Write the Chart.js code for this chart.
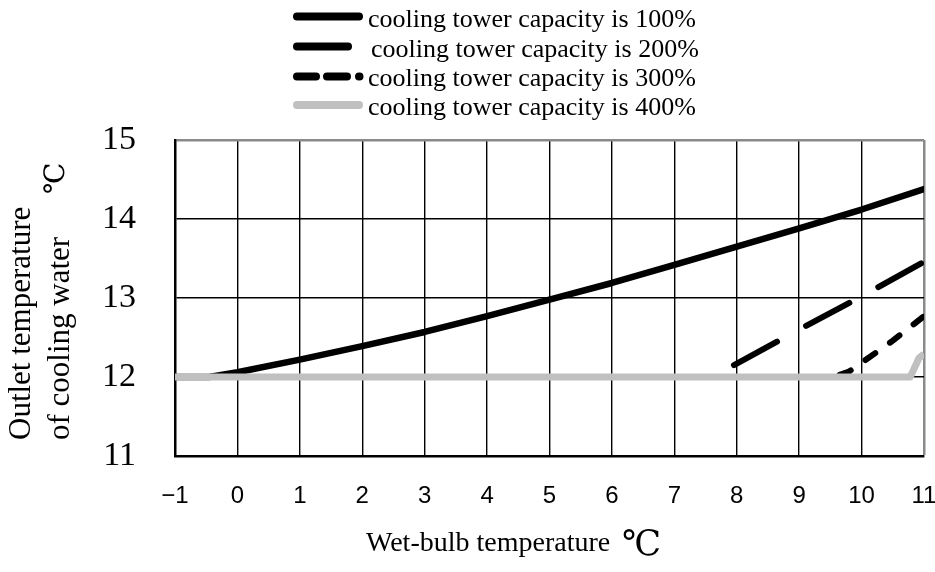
<!DOCTYPE html>
<html>
<head>
<meta charset="utf-8">
<title>Outlet temperature of cooling water</title>
<script src="https://cdn.jsdelivr.net/npm/chart.js@4.4.1/dist/chart.umd.min.js"></script>
<style>
  html, body { margin: 0; padding: 0; background: #fff; }
  canvas { display: block; }
</style>
</head>
<body>
<canvas id="chart" width="935" height="572"></canvas>
<script>
// Series names
const seriesLabels = [
  'cooling tower capacity is 100%',
  'cooling tower capacity is 200%',
  'cooling tower capacity is 300%',
  'cooling tower capacity is 400%'
];

// Wet-bulb temperature (°C) -> outlet temperature of cooling water (°C)
const wetBulb100 = [-1, -0.45, 0, 1, 2, 3, 4, 5, 6, 7, 8, 9, 10, 11];
const outlet100  = [12.0, 12.0, 12.06, 12.22, 12.39, 12.57, 12.77, 12.98, 13.19, 13.42, 13.65, 13.88, 14.12, 14.38];

const wetBulb200 = [-1, 7.6, 8, 9, 10, 11];
const outlet200  = [12.0, 12.0, 12.17, 12.6, 13.02, 13.46];

const wetBulb300 = [-1, 9.55, 9.8, 10, 10.5, 11];
const outlet300  = [12.0, 12.0, 12.07, 12.18, 12.46, 12.77];

const wetBulb400 = [-1, 10.78, 10.92, 11];
const outlet400  = [12.0, 12.0, 12.24, 12.29];

// Axis ticks
const xTickValues = [-1, 0, 1, 2, 3, 4, 5, 6, 7, 8, 9, 10, 11];
const yTickValues = [11, 12, 13, 14, 15];

// Axis titles
const yTitleLines = ['Outlet temperature', 'of cooling water'];
const yUnit = '\u2103';
const xTitle = 'Wet-bulb temperature';
const xUnit = '\u2103';

const SERIF = '"Liberation Serif", "Times New Roman", serif';
const SANS = '"Liberation Sans", Arial, sans-serif';
const GREY = '#c0c0c0';
const FRAME_GREY = '#8a8a8a';

const toPoints = (xs, ys) => xs.map((x, i) => ({ x, y: ys[i] }));

// Legend samples and axis titles, drawn on top of the chart
const decorations = {
  id: 'decorations',
  afterDraw(chart) {
    const ctx = chart.ctx;
    ctx.save();

    // legend
    const rows = [
      { x0: 297, x1: 359, y: 16.5, color: '#000', dash: [], textX: 368, base: 27 },
      { x0: 297, x1: 348, y: 46.5, color: '#000', dash: [], textX: 371, base: 56.5 },
      { x0: 297, x1: 359.5, y: 76.5, color: '#000', dash: [19, 11, 20, 12, 0.5, 60], textX: 368, base: 86 },
      { x0: 297, x1: 359, y: 105, color: GREY, dash: [], textX: 368, base: 115 }
    ];
    rows.forEach((r, i) => {
      ctx.beginPath();
      ctx.setLineDash(r.dash);
      ctx.lineCap = 'round';
      ctx.lineWidth = 8;
      ctx.strokeStyle = r.color;
      ctx.moveTo(r.x0, r.y);
      ctx.lineTo(r.x1, r.y);
      ctx.stroke();
      ctx.setLineDash([]);
      ctx.fillStyle = '#000';
      ctx.font = '26px ' + SERIF;
      ctx.textAlign = 'left';
      ctx.textBaseline = 'alphabetic';
      ctx.fillText(chart.data.datasets[i].label, r.textX, r.base);
    });

    // y axis title (rotated)
    ctx.fillStyle = '#000';
    ctx.font = '31px ' + SERIF;
    ctx.textAlign = 'left';
    ctx.textBaseline = 'middle';
    [[22, yTitleLines[0]], [61, yTitleLines[1]]].forEach(([x, t]) => {
      ctx.save();
      ctx.translate(x, 440);
      ctx.rotate(-Math.PI / 2);
      ctx.fillText(t, 0, 0);
      ctx.restore();
    });
    ctx.save();
    ctx.font = '28px "DejaVu Serif", serif';
    ctx.translate(57, 194);
    ctx.rotate(-Math.PI / 2);
    ctx.fillText(yUnit, 0, 0);
    ctx.restore();

    // x axis title
    ctx.font = '28px ' + SERIF;
    ctx.textBaseline = 'alphabetic';
    ctx.fillText(xTitle, 366, 551);
    ctx.font = '35px "DejaVu Serif", serif';
    ctx.fillText(xUnit, 622, 555);

    ctx.restore();
  }
};

new Chart(document.getElementById('chart'), {
  type: 'line',
  data: {
    datasets: [
      {
        label: seriesLabels[0],
        data: toPoints(wetBulb100, outlet100),
        borderColor: '#000', borderWidth: 6.5,
        borderCapStyle: 'round', borderJoinStyle: 'round',
        order: 1
      },
      {
        label: seriesLabels[1],
        data: toPoints(wetBulb200, outlet200),
        borderColor: '#000', borderWidth: 6,
        borderDash: [49, 33], borderDashOffset: 12,
        borderCapStyle: 'round', borderJoinStyle: 'round',
        order: 2
      },
      {
        label: seriesLabels[2],
        data: toPoints(wetBulb300, outlet300),
        borderColor: '#000', borderWidth: 6,
        borderDash: [12, 18], borderDashOffset: 25,
        borderCapStyle: 'round', borderJoinStyle: 'round',
        order: 3
      },
      {
        label: seriesLabels[3],
        data: toPoints(wetBulb400, outlet400),
        borderColor: GREY, borderWidth: 7,
        borderCapStyle: 'butt', borderJoinStyle: 'round',
        order: 0
      }
    ]
  },
  options: {
    responsive: false,
    animation: false,
    devicePixelRatio: 1,
    clip: 0,
    layout: { padding: { top: 140, right: 11, bottom: 0, left: 0 } },
    elements: { point: { radius: 0, hoverRadius: 0 }, line: { tension: 0 } },
    plugins: { legend: { display: false }, tooltip: { enabled: false } },
    scales: {
      x: {
        type: 'linear',
        min: -1, max: 11,
        afterBuildTicks: s => { s.ticks = xTickValues.map(v => ({ value: v })); },
        afterFit: s => { s.height = 116; s.paddingLeft = 0; s.paddingRight = 0; },
        ticks: {
          color: '#000',
          font: { family: SANS, size: 24 },
          padding: 26,
          callback: v => (v < 0 ? '\u2212' + Math.abs(v) : String(v))
        },
        grid: {
          drawTicks: false,
          color: c => (c.tick && c.tick.value === 11 ? FRAME_GREY : '#000'),
          lineWidth: c => (c.tick && c.tick.value === 11 ? 2.5 : 1.4)
        },
        border: { color: '#000', width: 2.5 }
      },
      y: {
        min: 11, max: 15,
        afterBuildTicks: s => { s.ticks = yTickValues.map(v => ({ value: v })); },
        afterFit: s => { s.width = 175; s.paddingTop = 0; s.paddingBottom = 0; },
        ticks: {
          color: '#000',
          font: { family: SERIF, size: 34 },
          padding: 39
        },
        grid: {
          drawTicks: false,
          color: c => (c.tick && c.tick.value === 15 ? FRAME_GREY : '#000'),
          lineWidth: c => (c.tick && c.tick.value === 15 ? 2.5 : 1.4)
        },
        border: { color: '#000', width: 2.5 }
      }
    }
  },
  plugins: [decorations]
});
</script>
</body>
</html>
